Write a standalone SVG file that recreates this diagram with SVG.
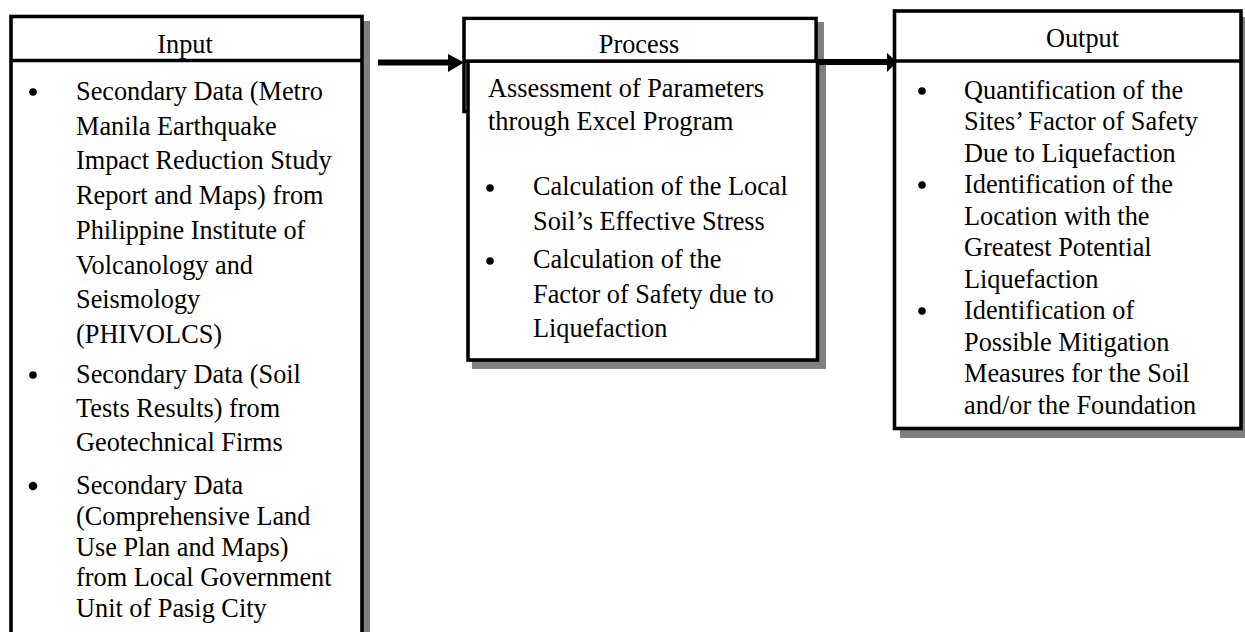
<svg xmlns="http://www.w3.org/2000/svg" width="1245" height="632" viewBox="0 0 1245 632">
<style>
.box{fill:#fff;stroke:#000;stroke-width:3.6}
.shadow{fill:#808080;stroke:none}
.div{stroke:#000;stroke-width:3.5}
.t{font-family:"Liberation Serif","Times New Roman",serif;font-size:26.3px;fill:#000}
.h{text-anchor:middle}
.b{fill:#000}
.conn{stroke:#000;stroke-width:6;fill:none}
.head{fill:#000}
</style>
<rect width="1245" height="632" fill="#fff"/>

<g id="input">
  <rect class="shadow" x="15" y="21" width="355" height="700"/>
  <rect class="box" x="11" y="16.5" width="351" height="700"/>
  <line class="div" x1="11" y1="60.5" x2="362" y2="60.5"/>
  <text class="t h" x="185" y="53">Input</text>
  <circle class="b" cx="33" cy="92" r="3.8"/>
  <circle class="b" cx="33" cy="375" r="3.8"/>
  <circle class="b" cx="33" cy="486" r="4.3"/>
  <text class="t" x="76" y="100">Secondary Data (Metro</text>
  <text class="t" x="76" y="134.5">Manila Earthquake</text>
  <text class="t" x="76" y="169">Impact Reduction Study</text>
  <text class="t" x="76" y="203.5">Report and Maps) from</text>
  <text class="t" x="76" y="239">Philippine Institute of</text>
  <text class="t" x="76" y="273.5">Volcanology and</text>
  <text class="t" x="76" y="308">Seismology</text>
  <text class="t" x="76" y="343">(PHIVOLCS)</text>
  <text class="t" x="76" y="382.5">Secondary Data (Soil</text>
  <text class="t" x="76" y="416.5">Tests Results) from</text>
  <text class="t" x="76" y="451">Geotechnical Firms</text>
  <text class="t" x="76" y="494">Secondary Data</text>
  <text class="t" x="76" y="525">(Comprehensive Land</text>
  <text class="t" x="76" y="555.5">Use Plan and Maps)</text>
  <text class="t" x="76" y="586">from Local Government</text>
  <text class="t" x="76" y="616.5">Unit of Pasig City</text>
</g>

<g id="process">
  <rect class="shadow" x="468" y="22" width="356" height="44"/>
  <rect class="box" x="464" y="18.5" width="352" height="93"/>
  <rect class="shadow" x="472" y="64" width="354" height="305"/>
  <rect class="box" x="468" y="61" width="349.5" height="299"/>
  <line class="div" x1="464" y1="61" x2="817.5" y2="61"/>
  <rect x="466" y="20.3" width="348.2" height="39" fill="#fff"/>
  <text class="t h" x="639" y="53">Process</text>
  <text class="t" x="488" y="97">Assessment of Parameters</text>
  <text class="t" x="488" y="130">through Excel Program</text>
  <circle class="b" cx="490" cy="188" r="3.8"/>
  <circle class="b" cx="490" cy="261" r="3.8"/>
  <text class="t" x="533" y="195">Calculation of the Local</text>
  <text class="t" x="533" y="229.5">Soil’s Effective Stress</text>
  <text class="t" x="533" y="268">Calculation of the</text>
  <text class="t" x="533" y="302.5">Factor of Safety due to</text>
  <text class="t" x="533" y="337">Liquefaction</text>
</g>

<g id="output">
  <rect class="shadow" x="900" y="17" width="350" height="421"/>
  <rect class="box" x="894.5" y="11" width="346.5" height="417.5"/>
  <line class="div" x1="894.5" y1="61" x2="1241" y2="61"/>
  <text class="t h" x="1082.5" y="47">Output</text>
  <circle class="b" cx="922" cy="91" r="3.8"/>
  <circle class="b" cx="922" cy="185" r="3.8"/>
  <circle class="b" cx="922" cy="311" r="3.8"/>
  <text class="t" x="964" y="98.5">Quantification of the</text>
  <text class="t" x="964" y="130">Sites’ Factor of Safety</text>
  <text class="t" x="964" y="161.5">Due to Liquefaction</text>
  <text class="t" x="964" y="193">Identification of the</text>
  <text class="t" x="964" y="224.5">Location with the</text>
  <text class="t" x="964" y="256">Greatest Potential</text>
  <text class="t" x="964" y="287.5">Liquefaction</text>
  <text class="t" x="964" y="319">Identification of</text>
  <text class="t" x="964" y="350.5">Possible Mitigation</text>
  <text class="t" x="964" y="382">Measures for the Soil</text>
  <text class="t" x="964" y="413.5">and/or the Foundation</text>
</g>

<g id="connectors">
  <line class="conn" x1="378" y1="62.5" x2="449" y2="62.5"/>
  <polygon class="head" points="448,54 464,62.5 448,72"/>
  <line class="conn" x1="818" y1="62" x2="889" y2="62"/>
  <polygon class="head" points="887,53 897,62 887,72"/>
</g>
</svg>
